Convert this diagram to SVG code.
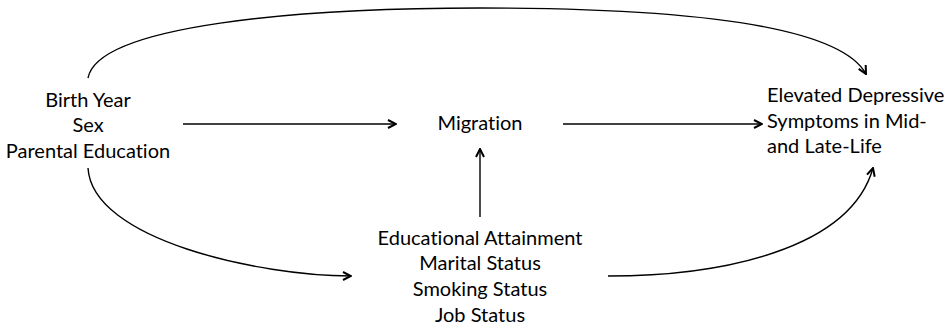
<svg xmlns="http://www.w3.org/2000/svg" width="951" height="332" viewBox="0 0 951 332">
<style>
text{font-family:Lato,"Open Sans","Liberation Sans",sans-serif;font-size:20px;fill:#000;font-variant-ligatures:none}
.c{text-anchor:middle}
.e{fill:none;stroke:#000;stroke-width:1.4}
</style>
<defs>
<marker id="ah" viewBox="0 0 10 10" refX="9" refY="5" markerWidth="10" markerHeight="10" markerUnits="userSpaceOnUse" orient="auto">
<path d="M1,1 L9,5 L1,9" fill="none" stroke="#000" stroke-width="2"/>
</marker>
</defs>
<rect width="951" height="332" fill="#fff"/>
<g id="connectors">
<path class="e" d="M88,78 C98,25 300,8 480,8 C690,8 840,26 866,74" marker-end="url(#ah)"/>
<path class="e" d="M183,124 L396,124" marker-end="url(#ah)"/>
<path class="e" d="M563,124 L762,124" marker-end="url(#ah)"/>
<path class="e" d="M480,217 L480,149" marker-end="url(#ah)"/>
<path class="e" d="M88,168 C92,240 260,276 351,276" marker-end="url(#ah)"/>
<path class="e" d="M608,276 C720,276 850,250 873,168" marker-end="url(#ah)"/>
</g>
<g id="node-baseline">
<text class="c" x="88" y="107">Birth Year</text>
<text class="c" x="88" y="132">Sex</text>
<text class="c" x="88" y="158">Parental Education</text>
</g>
<g id="node-migration">
<text class="c" x="480" y="130">Migration</text>
</g>
<g id="node-outcome">
<text x="767" y="102">Elevated Depressive</text>
<text x="767" y="128">Symptoms in Mid-</text>
<text x="767" y="153">and Late-Life</text>
</g>
<g id="node-mediators">
<text class="c" x="480" y="245">Educational Attainment</text>
<text class="c" x="480" y="270">Marital Status</text>
<text class="c" x="480" y="296">Smoking Status</text>
<text class="c" x="480" y="322">Job Status</text>
</g>
</svg>
